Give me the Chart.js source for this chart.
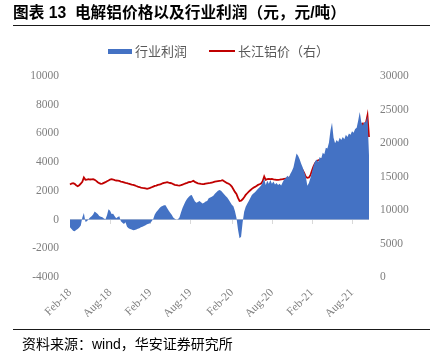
<!DOCTYPE html>
<html>
<head>
<meta charset="utf-8">
<script src="https://cdn.jsdelivr.net/npm/chart.js@4.4.0/dist/chart.umd.min.js"></script>
<style>
  body { margin: 0; width: 430px; height: 354px; background: #fff; position: relative; overflow: hidden;
         font-family: "Liberation Sans", "Noto Sans CJK SC", sans-serif; }
  #chart { position: absolute; left: 0; top: 0; }
  .title { position: absolute; left: 13px; top: 3px; height: 20px; line-height: 20px; font-size: 15.7px;
           font-weight: bold; color: #000; white-space: nowrap; }
  .rule { position: absolute; left: 13px; right: 0; height: 0; border-top: 1px solid #1a1a1a; }
  .leg-text { position: absolute; top: 43px; height: 16px; line-height: 16px; font-size: 13px; color: #595959;
              font-family: "Noto Sans CJK SC", sans-serif; white-space: nowrap; }
  .leg-box { position: absolute; left: 108px; top: 49px; width: 24px; height: 5px; background: #4472C4; }
  .leg-line { position: absolute; left: 209px; top: 50px; width: 26px; height: 2px; background: #C00000; }
  .source { position: absolute; left: 22px; top: 335px; height: 18px; line-height: 18px; font-size: 14px;
            color: #000; white-space: nowrap; }
</style>
</head>
<body>
<canvas id="chart" width="430" height="354"></canvas>
<div class="title">图表 13&nbsp; 电解铝价格以及行业利润（元，元/吨）</div>
<div class="rule" style="top: 25px"></div>
<div class="leg-box"></div>
<div class="leg-text" style="left: 135px">行业利润</div>
<div class="leg-line"></div>
<div class="leg-text" style="left: 238px">长江铝价（右）</div>
<div class="rule" style="top: 329px"></div>
<div class="source">资料来源：wind，华安证券研究所</div>
<script>
// weekly observations, first one on 2018-02-02
const startDate = new Date(2018, 1, 2)
const weekCount = 195
const tickMonths = ['Feb', 'Aug']
const monthNames = ['Jan', 'Feb', 'Mar', 'Apr', 'May', 'Jun', 'Jul', 'Aug', 'Sep', 'Oct', 'Nov', 'Dec']

// 行业利润 (元/吨), left axis
const profit = [
  -530, -650, -780, -820, -720, -660, -560, -420, 150, 450,
  -150, -120, 20, 150, 230, 350, 560, 480, 380, 250,
  200, 160, 80, 20, 300, 720, 620, 380, 400, 230,
  90, 180, 240, -120, -220, -300, -180, -500, -600, -660,
  -700, -750, -720, -700, -640, -600, -540, -500, -440, -390,
  -330, -290, -250, -120, 40, 350, 530, 650, 780, 890,
  940, 990, 1000, 800, 640, 480, 330, 150, 60, 10,
  20, 150, 500, 800, 1050, 1270, 1450, 1580, 1680, 1720,
  1480, 1280, 1180, 1220, 1300, 1200, 1120, 1180, 1260, 1300,
  1480, 1530, 1590, 1660, 1790, 1900, 2000, 2060, 2000, 1880,
  1760, 1650, 1540, 1380, 1200, 1040, 930, 600, 130, -700,
  -1300, -1200, -200, 550, 900, 1100, 1300, 1500, 1720, 1820,
  1900, 2020, 2140, 2250, 2380, 2580, 2850, 2400, 2700, 2500,
  2750, 2500, 2650, 2450, 2550, 2400, 2500, 2380, 2600, 2800,
  2880, 3050, 2950, 3200, 3380, 3650, 4150, 4600, 4450, 4200,
  3880, 3620, 3300, 2980, 2350, 2550, 2900, 3300, 3750, 4050,
  4180, 4000, 4350, 4250, 4650, 4550, 5000, 4950, 5350, 6200,
  6750, 5700, 5320, 5550, 5400, 5700, 5550, 5750, 5600, 5900,
  5750, 6000, 5900, 6150, 6050, 6300, 6400, 6900, 7500, 6800,
  6550, 6800, 6780, 7200, 4500,
]

// 长江铝价 (元/吨), right axis
const price = [
  13800, 13950, 14000, 13900, 13700, 13560, 13700, 13950, 14200, 14850,
  14500, 14550, 14600, 14550, 14580, 14600, 14500, 14350, 14150, 14000,
  13900, 13930, 14050, 14150, 14300, 14400, 14550, 14600, 14550, 14450,
  14400, 14380, 14330, 14250, 14200, 14120, 14040, 14000, 13920, 13850,
  13780, 13750, 13680, 13580, 13500, 13430, 13350, 13300, 13280, 13230,
  13150, 13220, 13300, 13400, 13500, 13600, 13650, 13750, 13800, 13850,
  13980, 14050, 14100, 14150, 14080, 14030, 13980, 13850, 13760, 13720,
  13680, 13650, 13700, 13780, 13880, 13980, 14050, 14150, 14180, 14250,
  14350, 14200, 14080, 13980, 13950, 13900, 13860, 13880, 13920, 13960,
  14000, 14040, 14100, 14160, 14240, 14280, 14320, 14360, 14400, 14450,
  14300, 14150, 14000, 13920, 13750, 13500, 13100, 12700, 12400, 11800,
  11350, 11400, 11600, 11900, 12250, 12500, 12750, 12950, 13150, 13320,
  13450, 13600, 13750, 13850, 13950, 14300, 15000, 14500, 14600, 14650,
  14600, 14650, 14580, 14550, 14500, 14500, 14520, 14560, 14600, 14650,
  14700, 14750, 14820, 14900, 15100, 15500, 16200, 16600, 16850, 16550,
  16250, 15950, 15500, 14950, 14800, 14850, 15200, 15900, 16500, 17000,
  17300, 17420, 17500, 17580, 17650, 17800, 17950, 18200, 18550, 19100,
  20000, 18800, 18400, 18400, 18400, 18420, 18500, 18650, 18750, 18880,
  19000, 19200, 19350, 19550, 19750, 20000, 20300, 21000, 23100, 22700,
  22900, 22400, 23000, 24100, 20900,
]

const labels = []
for (let i = 0; i < weekCount; i++) {
  const d = new Date(startDate.getTime())
  d.setDate(d.getDate() + i * 7)
  labels.push(d)
}

// Feb-18, Aug-18 ... on the first week of the month
function tickText (d) {
  const m = monthNames[d.getMonth()]
  if (tickMonths.indexOf(m) < 0 || d.getDate() > 7) return ''
  return m + '-' + String(d.getFullYear()).slice(2)
}

function plainNumber (value) {
  return String(value)
}

const tickFont = { family: "'Liberation Serif', 'Times New Roman', serif", size: 11.5 }
const tickColor = '#7f7f7f'

const zeroTicks = {
  id: 'zeroTicks',
  beforeDatasetsDraw (chart) {
    const xs = chart.scales.x
    const y0 = Math.round(chart.scales.y.getPixelForValue(0))
    const c = chart.ctx
    c.save()
    c.strokeStyle = '#d9d9d9'
    c.lineWidth = 1
    for (let i = 0; i < labels.length; i++) {
      if (!tickText(labels[i])) continue
      const px = Math.round(xs.getPixelForValue(i)) + 0.5
      c.beginPath()
      c.moveTo(px, y0)
      c.lineTo(px, y0 + 4)
      c.stroke()
    }
    c.restore()
  },
}

const ctx = document.getElementById('chart').getContext('2d')
const myChart = new Chart(ctx, {
  type: 'line',
  data: {
    labels: labels,
    datasets: [
      {
        label: '行业利润',
        data: profit,
        yAxisID: 'y',
        fill: 'origin',
        backgroundColor: '#4472C4',
        borderWidth: 0,
        pointRadius: 0,
        tension: 0,
      },
      {
        label: '长江铝价（右）',
        data: price,
        yAxisID: 'y1',
        fill: false,
        borderColor: '#C00000',
        borderWidth: 1.8,
        pointRadius: 0,
        tension: 0,
      },
    ],
  },
  options: {
    responsive: false,
    animation: false,
    layout: { padding: { top: 76, bottom: 37, left: 0, right: 0 } },
    plugins: {
      legend: { display: false },
      tooltip: { enabled: false },
    },
    scales: {
      x: {
        type: 'category',
        offset: false,
        grid: { display: false, drawTicks: false },
        border: { display: false },
        ticks: {
          autoSkip: false,
          minRotation: 45,
          maxRotation: 45,
          padding: 9,
          font: tickFont,
          color: tickColor,
          callback: function (value, index) { return tickText(labels[index]) },
        },
        afterFit: function (scale) { scale.height = 40 },
      },
      y: {
        position: 'left',
        min: -4000,
        max: 10000,
        grid: {
          drawTicks: false,
          color: function (c) { return c.tick && c.tick.value === 0 ? '#d9d9d9' : 'rgba(0,0,0,0)' },
        },
        border: { display: false },
        ticks: { stepSize: 2000, padding: 11, font: tickFont, color: tickColor, callback: plainNumber },
        afterFit: function (scale) { scale.width = 70 },
      },
      y1: {
        position: 'right',
        min: 0,
        max: 30000,
        grid: { display: false, drawTicks: false },
        border: { display: false },
        ticks: { stepSize: 5000, padding: 11, font: tickFont, color: tickColor, callback: plainNumber },
        afterFit: function (scale) { scale.width = 61 },
      },
    },
  },
  plugins: [zeroTicks],
})
</script>
</body>
</html>
